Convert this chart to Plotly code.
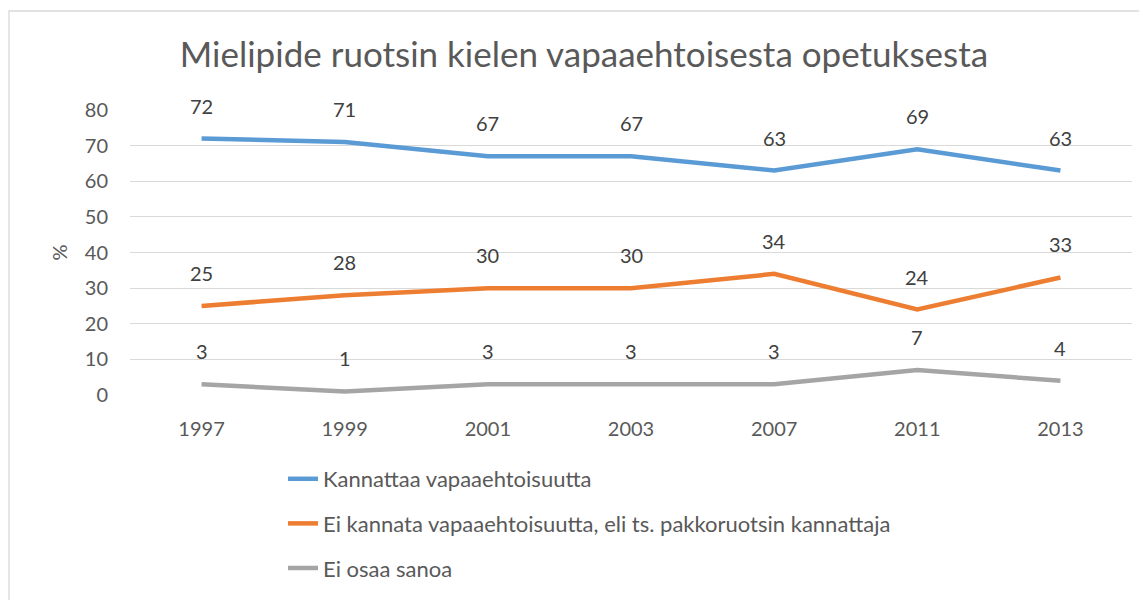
import plotly.graph_objects as go

years = ["1997", "1999", "2001", "2003", "2007", "2011", "2013"]
kannattaa = [72, 71, 67, 67, 63, 69, 63]
ei_kannata = [25, 28, 30, 30, 34, 24, 33]
ei_osaa = [3, 1, 3, 3, 3, 7, 4]

series = [
    ("Kannattaa vapaaehtoisuutta", kannattaa, "#5B9BD5"),
    ("Ei kannata vapaaehtoisuutta, eli ts. pakkoruotsin kannattaja", ei_kannata, "#ED7D31"),
    ("Ei osaa sanoa", ei_osaa, "#A5A5A5"),
]

FONT = "Lato, Open Sans, sans-serif"
TXT = "#595959"

# page body adds an 8px offset; figure coordinates are shifted accordingly
W, H = 1139, 600
L, T, PW, PH = 122, 102, 1002, 285

fig = go.Figure()
annotations = []
for i, (name, vals, col) in enumerate(series):
    fig.add_trace(go.Scatter(
        x=years, y=vals, name=name, mode="lines",
        line=dict(color=col, width=4.5), legendgroup=str(i),
    ))
    for j, v in enumerate(vals):
        annotations.append(dict(x=j, y=v, xref="x", yref="y", text=str(v),
                                showarrow=False, yshift=33,
                                font=dict(family=FONT, size=20, color="#404040")))

fig.update_layout(
    width=W, height=H,
    paper_bgcolor="white", plot_bgcolor="white",
    margin=dict(l=L, r=W - L - PW, t=T, b=H - T - PH),
    title=dict(text="Mielipide ruotsin kielen vapaaehtoisesta opetuksesta",
               x=576 / W, xanchor="center", y=1 - 47 / H, yanchor="middle",
               font=dict(family=FONT, size=35, color=TXT)),
    font=dict(family=FONT, color=TXT),
    annotations=annotations,
    showlegend=True,
    legend=dict(x=(275 - L) / PW, xanchor="left", y=-0.221, yanchor="top",
                orientation="v", font=dict(family=FONT, size=22, color=TXT),
                tracegroupgap=13, bgcolor="rgba(0,0,0,0)"),
    shapes=[dict(type="rect", xref="paper", yref="paper",
                 x0=(1 - L) / PW, x1=(1160 - L) / PW,
                 y0=-2.0, y1=(T + PH - 3) / PH,
                 line=dict(color="#D9D9D9", width=1.3), fillcolor="rgba(0,0,0,0)",
                 layer="below")],
)
fig.update_xaxes(type="category", range=[-0.5, 6.5], showgrid=False,
                 showline=False, zeroline=False,
                 ticks="outside", ticklen=16, tickcolor="rgba(0,0,0,0)",
                 tickfont=dict(family=FONT, size=20, color=TXT))
fig.update_yaxes(range=[0, 80], dtick=10, showgrid=True, gridcolor="#D9D9D9",
                 gridwidth=1.3, zeroline=False, showline=False,
                 ticks="outside", ticklen=17, tickcolor="rgba(0,0,0,0)",
                 tickfont=dict(family=FONT, size=20, color=TXT),
                 title=dict(text="%", font=dict(family=FONT, size=20, color=TXT),
                            standoff=11))

fig.write_html("out.html")
